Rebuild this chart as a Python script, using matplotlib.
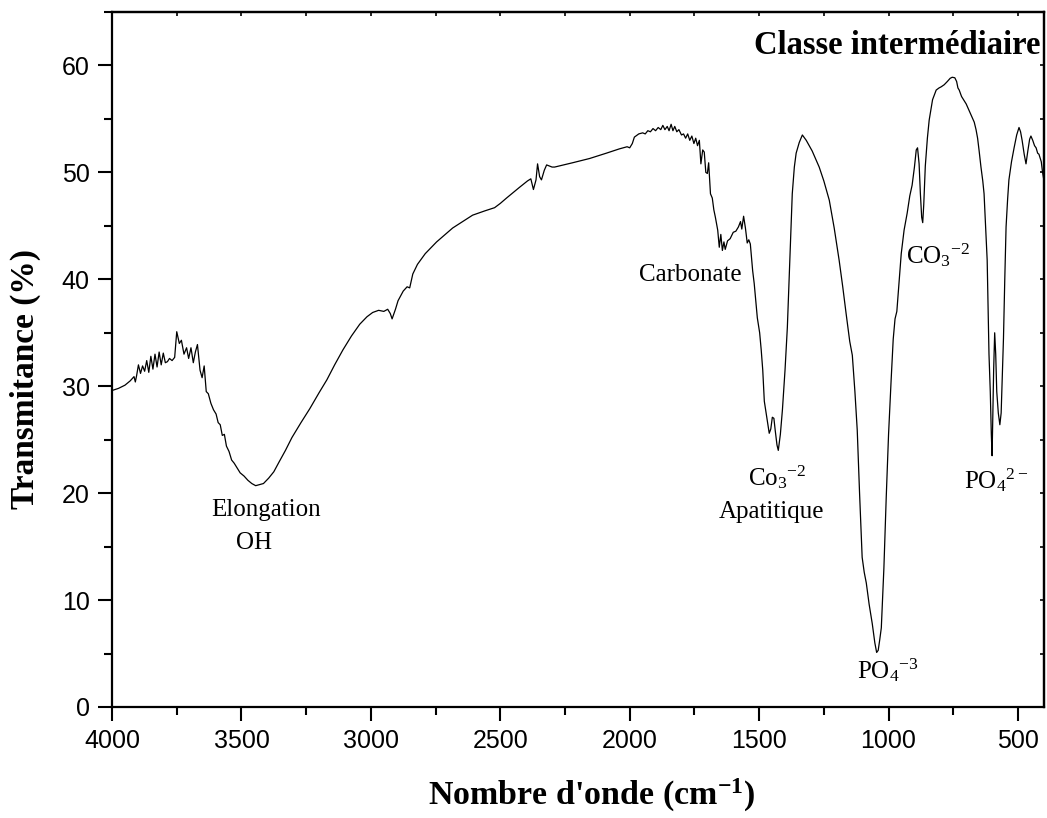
import numpy as np
import matplotlib
matplotlib.use("Agg")
import matplotlib.pyplot as plt
from matplotlib.ticker import MultipleLocator

plt.rcParams['mathtext.fontset'] = 'custom'
plt.rcParams['mathtext.rm'] = 'Liberation Serif'
plt.rcParams['mathtext.it'] = 'Liberation Serif:italic'
plt.rcParams['mathtext.bf'] = 'Liberation Serif:bold'

wavenumber = [
    4000, 3975, 3950, 3930, 3915, 3910, 3905, 3898, 3890, 3882, 3874, 3866, 3858, 3850,
    3842, 3834, 3826, 3818, 3810, 3802, 3794, 3786, 3778, 3768, 3758, 3750, 3740, 3732,
    3722, 3712, 3704, 3695, 3686, 3678, 3670, 3660, 3652, 3644, 3636, 3628, 3618, 3608,
    3598, 3590, 3582, 3574, 3566, 3558, 3548, 3538, 3528, 3518, 3505, 3490, 3475, 3460,
    3445, 3430, 3415, 3395, 3375, 3355, 3330, 3305, 3270, 3236, 3200, 3170, 3140, 3108,
    3075, 3043, 3015, 2993, 2970, 2950, 2935, 2925, 2918, 2905, 2895, 2875, 2860, 2850,
    2838, 2820, 2790, 2746, 2684, 2607, 2560, 2522, 2500, 2476, 2426, 2395, 2382, 2372,
    2362, 2356, 2348, 2341, 2330, 2321, 2300, 2290, 2255, 2221, 2155, 2090, 2040, 2010,
    2000, 1990, 1982, 1965, 1950, 1940, 1930, 1920, 1910, 1900, 1890, 1880, 1872, 1864,
    1855, 1848, 1840, 1833, 1826, 1818, 1810, 1800, 1792, 1784, 1776, 1768, 1760, 1752,
    1745, 1738, 1731, 1725, 1718, 1712, 1706, 1700, 1695, 1688, 1681, 1675, 1669, 1660,
    1654, 1648, 1642, 1636, 1631, 1622, 1612, 1600, 1590, 1580, 1572, 1567, 1560, 1553,
    1546, 1540, 1534, 1525, 1519, 1507, 1498, 1492, 1486, 1480, 1470, 1461, 1455, 1449,
    1443, 1438, 1431, 1426, 1418, 1410, 1400, 1391, 1381, 1372, 1364, 1357, 1345, 1333,
    1318, 1295, 1268, 1250, 1229, 1210, 1191, 1177, 1164, 1150, 1140, 1130, 1121, 1112,
    1102, 1094, 1086, 1075, 1063, 1053, 1046, 1040, 1034, 1028, 1018, 1009, 1000, 990,
    982, 975, 968, 960, 951, 940, 928, 918, 909, 900, 893, 888, 882, 877,
    872, 868, 864, 858, 850, 843, 830, 816, 805, 797, 785, 773, 762, 754,
    744, 737, 732, 727, 718, 708, 700, 689, 680, 669, 662, 656, 650, 643,
    636, 631, 625, 619, 615, 612, 607, 603, 600, 597, 594, 590, 586, 582,
    576, 570, 565, 561, 556, 551, 546, 540, 535, 525, 515, 505, 496, 490,
    484, 476, 469, 462, 455, 450, 443, 436, 430, 424, 419, 414, 410, 405,
    400,
]

transmittance = [
    29.6, 29.8, 30.1, 30.5, 30.9, 30.4, 31.0, 32.0, 31.2, 31.9, 31.4, 32.4, 31.3, 32.8,
    31.6, 33.0, 31.8, 33.2, 32.0, 33.1, 32.2, 32.3, 32.6, 32.4, 32.7, 35.1, 34.0, 34.3,
    33.0, 33.6, 32.6, 33.6, 32.2, 33.2, 33.9, 31.5, 30.8, 31.9, 29.5, 29.3, 28.4, 27.8,
    27.4, 26.6, 26.4, 25.4, 25.5, 24.4, 23.9, 23.1, 22.8, 22.4, 21.9, 21.6, 21.2, 20.9,
    20.7, 20.8, 20.9, 21.4, 22.0, 22.9, 24.0, 25.2, 26.6, 27.9, 29.4, 30.6, 32.0, 33.4,
    34.7, 35.8, 36.5, 36.9, 37.1, 37.0, 37.2, 36.8, 36.3, 37.2, 38.0, 38.9, 39.3, 39.2,
    40.5, 41.4, 42.4, 43.5, 44.8, 46.0, 46.4, 46.7, 47.1, 47.6, 48.6, 49.2, 49.4, 48.4,
    49.3, 50.8, 49.6, 49.3, 50.2, 50.7, 50.5, 50.5, 50.7, 50.9, 51.3, 51.8, 52.2, 52.4,
    52.3, 52.7, 53.3, 53.6, 53.7, 53.6, 53.9, 53.8, 54.1, 53.9, 54.2, 54.0, 54.4, 54.0,
    54.3, 53.9, 54.5, 53.9, 54.3, 53.8, 54.0, 53.5, 53.6, 53.2, 53.6, 53.0, 53.4, 52.7,
    53.2, 52.5, 53.0, 50.8, 52.1, 51.9, 50.0, 49.9, 50.9, 48.0, 47.6, 46.5, 45.8, 44.6,
    43.0, 44.2, 42.7, 43.5, 42.8, 43.6, 43.8, 44.4, 44.5, 44.9, 45.4, 44.7, 45.9, 44.8,
    43.4, 43.7, 43.3, 40.8, 39.6, 36.4, 35.0, 33.4, 31.5, 28.6, 27.0, 25.6, 26.0, 27.1,
    27.0, 25.9, 24.5, 24.0, 25.5, 27.8, 31.5, 35.5, 42.0, 48.0, 50.5, 51.8, 52.8, 53.5,
    53.0, 52.0, 50.5, 49.2, 47.4, 44.8, 41.8, 39.3, 36.8, 34.2, 32.9, 29.5, 25.9, 20.0,
    14.0, 12.6, 11.6, 9.6, 7.8, 6.0, 5.1, 5.3, 6.3, 7.4, 13.0, 19.6, 25.5, 30.6,
    34.4, 36.3, 37.0, 39.5, 42.4, 44.6, 46.2, 47.8, 48.8, 50.5, 52.1, 52.3, 50.8, 48.0,
    45.8, 45.3, 47.0, 50.6, 53.2, 54.9, 56.8, 57.7, 57.9, 58.0, 58.2, 58.5, 58.8, 58.9,
    58.85, 58.5, 57.9, 57.7, 57.1, 56.7, 56.4, 55.8, 55.3, 54.7, 54.0, 53.2, 52.0, 50.5,
    49.2, 48.0, 45.0, 41.8, 36.5, 33.0, 29.5, 25.5, 23.5, 27.5, 31.5, 35.0, 33.0, 29.5,
    27.5, 26.4, 27.5, 30.6, 34.5, 40.0, 44.9, 47.5, 49.3, 51.0, 52.3, 53.5, 54.2, 53.8,
    53.0, 51.7, 50.8, 52.0, 53.1, 53.4, 53.0, 52.5, 52.3, 51.8, 51.7, 51.3, 51.0, 50.0,
    49.3,
]

xticks_major = [4000, 3500, 3000, 2500, 2000, 1500, 1000, 500]
yticks_major = [0, 10, 20, 30, 40, 50, 60]

title_text = "Classe intermédiaire"
xlabel_text = r"Nombre d'onde (cm$^{\mathbf{-1}}$)"
ylabel_text = "Transmitance (%)"

annotations = [
    ("Elongation", 3406, 18.4, 'center'),
    ("OH", 3452, 15.3, 'center'),
    ("Carbonate", 1764, 40.4, 'center'),
    (r"CO$_{3}$$^{-2}$", 932, 42.3, 'left'),
    (r"Co$_{3}$$^{-2}$", 1542, 21.5, 'left'),
    ("Apatitique", 1453, 18.2, 'center'),
    (r"PO$_{4}$$^{-3}$", 1121, 3.5, 'left'),
    (r"PO$_{4}$$^{2-}$", 708, 21.2, 'left'),
]

fig = plt.figure(figsize=(10.47, 8.18), dpi=100)
ax = fig.add_axes([0.107, 0.1357, 0.890, 0.8496])

ax.plot(wavenumber, transmittance, color='black', lw=0.9)

ax.set_xlim(4000, 400)
ax.set_ylim(0, 65)
ax.set_xticks(xticks_major)
ax.set_yticks(yticks_major)
ax.xaxis.set_minor_locator(MultipleLocator(250))
ax.yaxis.set_minor_locator(MultipleLocator(5))
ax.tick_params(which='major', direction='out', length=10, width=1.5,
               labelsize=18, pad=6)
ax.tick_params(which='minor', direction='out', length=6, width=1.5)
for lab in ax.get_xticklabels() + ax.get_yticklabels():
    lab.set_fontfamily('Liberation Sans')

for sp in ax.spines.values():
    sp.set_linewidth(1.6)

secx = ax.secondary_xaxis('top')
secx.set_xticks(np.arange(4000, 399, -250))
secx.tick_params(direction='in', length=3, width=1.2, labeltop=False)
secx.spines['top'].set_linewidth(1.6)
secy = ax.secondary_yaxis('right')
secy.set_yticks(np.arange(0, 66, 5))
secy.tick_params(direction='in', length=3, width=1.2, labelright=False)
secy.spines['right'].set_linewidth(1.6)

ax.set_xlabel(xlabel_text, fontfamily='Liberation Serif', fontweight='bold',
              fontsize=24.5, labelpad=17)
ax.set_ylabel(ylabel_text, fontfamily='Liberation Serif', fontweight='bold',
              fontsize=24, labelpad=15)
ax.xaxis.label.set_x(0.515)
ax.yaxis.label.set_y(0.472)

ax.text(0.996, 0.952, title_text, transform=ax.transAxes, ha='right', va='center',
        fontfamily='Liberation Serif', fontweight='bold', fontsize=23.5)

for txt, x, y, ha in annotations:
    ax.text(x, y, txt, ha=ha, va='center', fontfamily='Liberation Serif',
            fontsize=18)

fig.savefig('out.png', dpi=100)
